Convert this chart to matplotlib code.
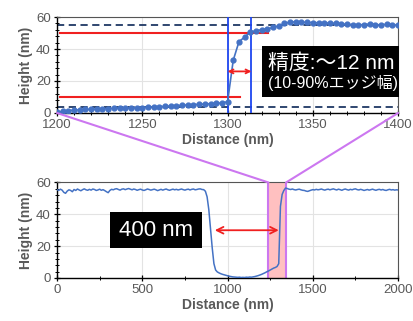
import numpy as np
import matplotlib
matplotlib.use("Agg")
import matplotlib.pyplot as plt
from matplotlib.patches import Rectangle, ConnectionPatch
from matplotlib.ticker import MultipleLocator

plt.rcParams['font.family'] = ['Liberation Sans', 'Noto Sans CJK JP', 'DejaVu Sans']

# ---------------- data ----------------
# zoomed profile (1200-1400 nm), sampled every ~3.33 nm
zoom_x_start, zoom_x_end = 1200, 1400
zoom_h = [0.5, 1.0, 1.5, 1.8, 2.0, 2.2, 2.3, 2.5, 2.6, 2.8,
          2.9, 3.0, 3.0, 3.1, 3.2, 3.3, 3.6, 3.9, 4.0, 4.1,
          4.4, 4.6, 4.8, 5.0, 5.2, 5.4, 5.6, 5.8, 6.0, 6.3,
          7.0, 33.0, 44.5, 47.5, 50.5, 51.5, 52.0, 52.5, 53.5, 54.5,
          56.0, 56.8, 57.0, 56.8, 56.6, 56.5, 56.4, 56.3, 56.2, 56.0,
          55.7, 55.4, 55.2, 55.0, 55.3, 55.6, 55.3, 55.0, 55.5, 55.2,
          54.8]

# full profile (0-2000 nm), every 10 nm
full_h = [55.5, 55.0, 55.8, 55.2, 53.8, 53.2, 54.6, 55.4, 55.0, 54.2,
          55.6, 55.0, 55.9, 55.3, 54.8, 55.5, 56.0, 55.4, 55.1, 55.7,
          55.2, 55.9, 55.6, 55.0, 55.3, 55.8, 55.1, 55.5, 54.9, 54.2,
          53.6, 55.0, 55.7, 55.4, 55.9, 56.1, 55.6, 55.2, 55.8, 56.0,
          55.5, 55.9, 56.2, 55.8, 55.4, 55.9, 55.6, 55.1, 55.5, 55.8,
          55.3, 55.0, 55.4, 55.9, 55.6, 55.2, 55.5, 55.8, 55.4, 54.9,
          55.3, 55.7, 55.2, 55.6, 55.9, 55.4, 55.1, 55.5, 55.8, 55.4,
          55.7, 55.3, 55.6, 55.9, 55.5, 55.2, 55.6, 55.8, 55.3, 55.7,
          55.9, 55.4, 55.6, 55.9, 56.0, 55.6, 55.5, 54.5, 51.0, 43.0,
          31.0, 19.0, 9.0, 5.0, 3.8, 3.2, 2.7, 2.3, 2.0, 1.7,
          1.4, 1.1, 0.9, 0.7, 0.6, 0.5, 0.4, 0.5, 0.3, 0.4,
          0.3, 0.5, 0.4, 0.6, 0.5, 0.7, 0.9, 1.2, 1.5, 1.9,
          2.3, 2.8, 3.3, 3.9, 4.4, 5.0, 5.6, 6.2, 6.6, 7.2,
          9.0, 45.0, 52.5, 55.0, 56.5, 56.2, 55.8, 55.6, 55.9, 55.5,
          55.3, 55.6, 55.8, 55.4, 55.1, 55.0, 54.6, 54.4, 54.8, 55.2,
          55.5, 55.3, 55.7, 55.4, 55.6, 55.9, 55.5, 55.2, 55.6, 55.8,
          55.4, 55.7, 56.0, 55.6, 55.3, 55.8, 55.5, 55.1, 55.6, 55.9,
          55.5, 55.2, 55.7, 55.4, 55.8, 56.0, 55.5, 55.3, 55.7, 55.4,
          55.0, 55.3, 55.6, 55.2, 55.5, 55.8, 55.4, 55.1, 55.5, 55.7,
          55.3, 55.6, 55.2, 55.0, 55.4, 55.7, 55.3, 55.5, 55.2, 55.4,
          55.3]

upper_ref, lower_ref = 55, 4          # dashed plateau levels
level90, level10 = 50, 10             # 90% / 10% levels
edge_left, edge_right = 1300, 1314    # edge width markers
arrow_h_top = 26
zoom_span = (1240, 1343)
arrow_full = (925, 1300)
arrow_h_full = 30

zoom_x = np.linspace(zoom_x_start, zoom_x_end, len(zoom_h))
full_x = np.linspace(0, 2000, len(full_h))

# ---------------- figure ----------------
fig = plt.figure(figsize=(4.13, 3.21), dpi=100)
ax1 = fig.add_axes([0.138, 0.648, 0.826, 0.299])
ax2 = fig.add_axes([0.138, 0.134, 0.826, 0.2975])

grey = '#595959'
blue = '#4472C4'
navy = '#1F3864'
red = '#F02020'
violet = '#CC77F0'

def style(ax):
    ax.grid(True, color='#E3E3E3', linewidth=0.8)
    ax.set_axisbelow(True)
    for s in ['left', 'bottom']:
        ax.spines[s].set_color('black')
        ax.spines[s].set_linewidth(1.0)
    for s in ['top', 'right']:
        ax.spines[s].set_color('#555555')
        ax.spines[s].set_linewidth(0.8)
    ax.tick_params(which='major', direction='inout', length=5, width=0.9,
                   colors='black', labelcolor=grey, labelsize=9.5, pad=2)
    ax.tick_params(which='minor', direction='inout', length=3, width=0.7, colors='black')
    ax.set_ylim(0, 60)
    ax.yaxis.set_major_locator(MultipleLocator(20))
    ax.yaxis.set_minor_locator(MultipleLocator(4))
    ax.set_ylabel('Height (nm)', fontsize=10, fontweight='bold', color=grey, labelpad=2)
    ax.set_xlabel('Distance (nm)', fontsize=10, fontweight='bold', color=grey, labelpad=1)

# top panel
style(ax1)
ax1.set_xlim(zoom_x_start, zoom_x_end)
ax1.xaxis.set_major_locator(MultipleLocator(50))
ax1.xaxis.set_minor_locator(MultipleLocator(10))
ax1.axhline(upper_ref, color=navy, linestyle=(0, (4, 2.5)), linewidth=1.3, zorder=2)
ax1.axhline(lower_ref, color=navy, linestyle=(0, (4, 2.5)), linewidth=1.3, zorder=2)
ax1.plot([1202, 1324], [level90, level90], color=red, linewidth=1.5, zorder=2)
ax1.plot([1202, 1307], [level10, level10], color=red, linewidth=1.5, zorder=2)
ax1.axvline(edge_left, color='#1E46F0', linewidth=1.3, zorder=3)
ax1.axvline(edge_right, color='#1E46F0', linewidth=1.3, zorder=3)
ax1.plot(zoom_x, zoom_h, color=blue, linewidth=1.2, marker='o', markersize=3.5, zorder=4)
ax1.annotate('', xy=(edge_left, arrow_h_top), xytext=(edge_right, arrow_h_top),
             arrowprops=dict(arrowstyle='<->', color=red, lw=1.3,
                             mutation_scale=7, shrinkA=0, shrinkB=0), zorder=5)

# bottom panel
style(ax2)
ax2.set_xlim(0, 2000)
ax2.xaxis.set_major_locator(MultipleLocator(500))
ax2.xaxis.set_minor_locator(MultipleLocator(250))
ax2.axvspan(zoom_span[0], zoom_span[1], facecolor='#FFC0C0', edgecolor='none', zorder=1)
ax2.axvline(zoom_span[0], color=violet, linewidth=1.5, zorder=2)
ax2.axvline(zoom_span[1], color=violet, linewidth=1.5, zorder=2)
ax2.plot(full_x, full_h, color=blue, linewidth=1.1, zorder=3)
ax2.annotate('', xy=(arrow_full[0], arrow_h_full), xytext=(arrow_full[1], arrow_h_full),
             arrowprops=dict(arrowstyle='<->', color=red, lw=1.3,
                             mutation_scale=12, shrinkA=0, shrinkB=0), zorder=5)

# connectors
for (xa, xb) in [(zoom_x_start, zoom_span[0]), (zoom_x_end, zoom_span[1])]:
    con = ConnectionPatch(xyA=(xa, 0), coordsA=ax1.transData,
                          xyB=(xb, 60), coordsB=ax2.transData,
                          color=violet, linewidth=1.5, zorder=6)
    fig.add_artist(con)

# annotation boxes
fig.add_artist(Rectangle((0.634, 0.698), 0.332, 0.159, transform=fig.transFigure,
                         facecolor='black', edgecolor='none', zorder=7))
fig.text(0.803, 0.804, '精度:〜12 nm', color='white', fontsize=15,
         ha='center', va='center', zorder=8)
fig.text(0.806, 0.741, '(10-90%エッジ幅)', color='white', fontsize=11.5,
         ha='center', va='center', zorder=8)

fig.add_artist(Rectangle((0.266, 0.227), 0.223, 0.113, transform=fig.transFigure,
                         facecolor='black', edgecolor='none', zorder=7))
fig.text(0.378, 0.283, '400 nm', color='white', fontsize=16,
         ha='center', va='center', zorder=8)

fig.savefig('out.png', dpi=100, facecolor='white')
